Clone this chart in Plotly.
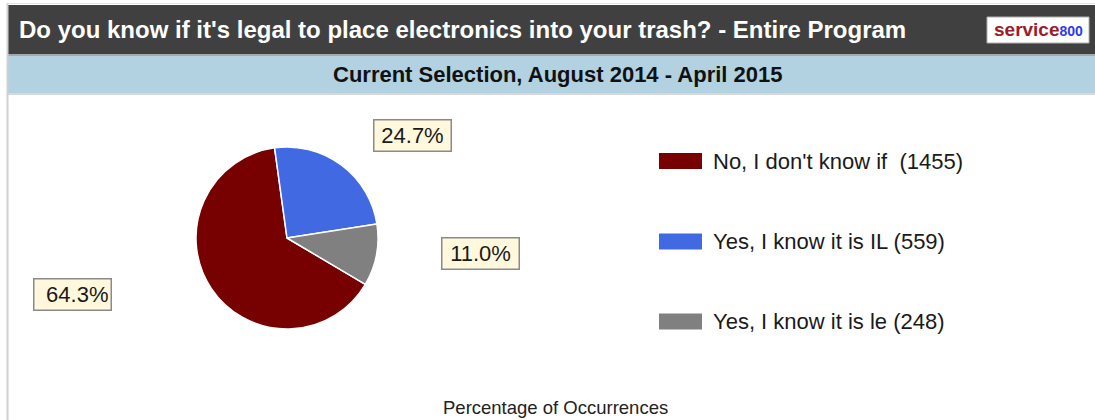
import plotly.graph_objects as go

# ---- data ----
categories = ["No, I don't know if\u00a0", "Yes, I know it is IL", "Yes, I know it is le"]
counts = [1455, 559, 248]
colors = ["#770000", "#4169E1", "#808080"]
title_text = "Do you know if it's legal to place electronics into your trash? - Entire Program"
subtitle_text = "Current Selection, August 2014 - April 2015"
axis_title = "Percentage of Occurrences"

W, H = 1095, 420
FONT = "Liberation Sans, Arial, sans-serif"


def px(x):
    return x / W


def py(y):
    return 1 - y / H


total = sum(counts)
pcts = [c / total * 100 for c in counts]

fig = go.Figure()

# pie: centre (287, 238), radius 91
cx, cy, r = 287, 238, 91
fig.add_trace(go.Pie(
    labels=categories,
    values=counts,
    marker=dict(colors=colors, line=dict(color="white", width=1.5)),
    sort=False,
    direction="clockwise",
    rotation=120.6,
    textinfo="none",
    hoverinfo="label+value+percent",
    showlegend=False,
    domain=dict(x=[px(cx - r), px(cx + r)], y=[py(cy + r), py(cy - r)]),
))

shapes = []
# outer frame / header bars
shapes.append(dict(type="rect", xref="paper", yref="paper", x0=px(7), x1=1, y0=py(4), y1=py(3.5),
                   fillcolor="#c8c8c8", line_width=0, layer="below"))
shapes.append(dict(type="rect", xref="paper", yref="paper", x0=px(7), x1=1, y0=py(54), y1=py(5),
                   fillcolor="#404040", line_width=0, layer="below"))
shapes.append(dict(type="rect", xref="paper", yref="paper", x0=px(7), x1=1, y0=py(56), y1=py(54),
                   fillcolor="#a8a8a8", line_width=0, layer="below"))
shapes.append(dict(type="rect", xref="paper", yref="paper", x0=px(7), x1=1, y0=py(93), y1=py(56),
                   fillcolor="#B2D1E1", line_width=0, layer="below"))
shapes.append(dict(type="rect", xref="paper", yref="paper", x0=px(7), x1=1, y0=py(95), y1=py(93),
                   fillcolor="#d8d8d8", line_width=0, layer="below"))
shapes.append(dict(type="rect", xref="paper", yref="paper", x0=px(6.5), x1=px(8.5), y0=0, y1=py(3.5),
                   fillcolor="#d0d0d0", line_width=0, layer="below"))
# logo box
shapes.append(dict(type="rect", xref="paper", yref="paper", x0=px(987), x1=px(1089), y0=py(43), y1=py(17),
                   fillcolor="white", line=dict(color="#b0b0b0", width=1), layer="below"))

annotations = []
annotations.append(dict(x=px(17), y=py(30), xref="paper", yref="paper", xanchor="left", yanchor="middle",
                        text="<b>" + title_text + "</b>", showarrow=False,
                        font=dict(family=FONT, size=24, color="white")))
annotations.append(dict(x=px(1038), y=py(30), xref="paper", yref="paper", xanchor="center", yanchor="middle",
                        text="<b><span style='color:#9b1c2c'>service</span>"
                             "<span style='color:#2b3cf0;font-size:14px'>800</span></b>",
                        showarrow=False, font=dict(family=FONT, size=19)))
annotations.append(dict(x=px(558), y=py(74), xref="paper", yref="paper", xanchor="center", yanchor="middle",
                        text="<b>" + subtitle_text + "</b>", showarrow=False,
                        font=dict(family=FONT, size=22, color="#111111")))
annotations.append(dict(x=px(555), y=py(407), xref="paper", yref="paper", xanchor="center", yanchor="middle",
                        text=axis_title, showarrow=False, font=dict(family=FONT, size=18.5, color="#222222")))

# percentage label boxes
label_pos = [(72, 294, "right"), (412, 135, "center"), (480, 254, "center")]
for pct, (lx, ly, al) in zip(pcts, label_pos):
    annotations.append(dict(x=px(lx), y=py(ly), xref="paper", yref="paper", xanchor="center", yanchor="middle",
                            text=f"{pct:.1f}%", showarrow=False, align=al,
                            width=72, height=26, borderpad=2,
                            bgcolor="#FFF8DC", bordercolor="#8a8a8a", borderwidth=1.5,
                            font=dict(family=FONT, size=22, color="#1a1a1a")))

# manual legend
row_y = [161, 241.5, 321.5]
for cat, cnt, col, ry in zip(categories, counts, colors, row_y):
    shapes.append(dict(type="rect", xref="paper", yref="paper", x0=px(659), x1=px(702),
                       y0=py(ry + 8), y1=py(ry - 8), fillcolor=col, line_width=0))
    annotations.append(dict(x=px(711), y=py(ry), xref="paper", yref="paper", xanchor="left", yanchor="middle",
                            text=f"{cat} ({cnt})", showarrow=False,
                            font=dict(family=FONT, size=22, color="#1a1a1a")))

fig.update_layout(
    width=W, height=H,
    margin=dict(l=0, r=0, t=0, b=0),
    paper_bgcolor="white",
    plot_bgcolor="white",
    shapes=shapes,
    annotations=annotations,
)

fig.write_html("out.html")
